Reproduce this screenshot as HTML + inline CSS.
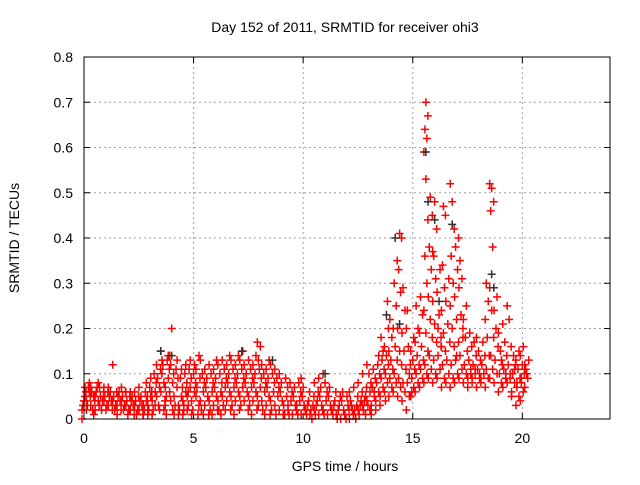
<!DOCTYPE html>
<html><head><meta charset="utf-8"><style>
html,body{margin:0;padding:0;background:#fff;}
svg text{font-family:"Liberation Sans",sans-serif;font-size:14px;fill:#000;}
</style></head><body>
<svg id="chart" width="640" height="480" xmlns="http://www.w3.org/2000/svg">
<rect width="640" height="480" fill="#fff"/>
<text x="345" y="32" text-anchor="middle">Day 152 of 2011, SRMTID for receiver ohi3</text>
<text x="345" y="471" text-anchor="middle">GPS time / hours</text>
<text transform="translate(19,238) rotate(-90)" text-anchor="middle">SRMTID / TECUs</text>
<g id="grid"></g>
<g id="ticks"></g>
<g id="marks"></g>
<rect x="84" y="57" width="526" height="362" fill="none" stroke="#000" stroke-width="1"/>
</svg>
<script>
const xTicks=[0,5,10,15,20];
const yTicks=[0,0.1,0.2,0.3,0.4,0.5,0.6,0.7,0.8];
const yTickLabels=["0","0.1","0.2","0.3","0.4","0.5","0.6","0.7","0.8"];
const times=[0.0,0.2,0.4,0.6,0.8,1.0,1.2,1.4,1.6,1.8,2.0,2.2,2.4,2.6,2.8,3.0,3.2,3.4,3.6,3.8,4.0,4.2,4.4,4.6,4.8,5.0,5.2,5.4,5.6,5.8,6.0,6.2,6.4,6.6,6.8,7.0,7.2,7.4,7.6,7.8,8.0,8.2,8.4,8.6,8.8,9.0,9.2,9.4,9.6,9.8,10.0,10.2,10.4,10.6,10.8,11.0,11.2,11.4,11.6,11.8,12.0,12.2,12.4,12.6,12.8,13.0,13.2,13.4,13.6,13.8,14.0,14.2,14.4,14.6,14.8,15.0,15.2,15.4,15.6,15.8,16.0,16.2,16.4,16.6,16.8,17.0,17.2,17.4,17.6,17.8,18.0,18.2,18.4,18.6,18.8,19.0,19.2,19.4,19.6,19.8,20.0,20.2];
const vals=[[0,5,3,6,4,2,7],[4,6,3,5,7,2,8],[3,5,6,4,2,7,1],[5,4,6,3,7,2,8],[3,4,5,6,2,7],[4,3,5,6,2,7],[3,4,5,2,6,7],[4,3,5,6,2,12],[3,4,5,2,6,1],[4,3,5,6,2,7],[3,2,4,5,1,6],[2,3,4,1,5,6],[3,2,4,5,1,6],[2,3,4,1,5,7],[3,4,2,5,6,1,8],[3,5,2,6,7,1,9],[4,6,2,8,10,1,3],[5,7,9,11,3,12,2],[6,8,10,4,12,15,2,13],[7,9,5,11,13,3,14,1],[6,8,4,10,20,14,2,12],[5,7,3,9,11,1,13],[3,5,2,7,9,1,11],[4,6,2,8,10,1,12,3],[5,7,3,9,11,2,13,6],[4,6,2,8,10,1,12],[5,3,7,9,1,11,14],[4,6,2,8,10,13,1],[3,5,7,1,9,11],[4,6,2,8,10,12,1],[3,5,7,2,9,11,13],[4,6,2,8,10,12,1],[5,7,3,9,11,13,2],[4,6,8,2,10,12,14],[5,7,3,9,11,13,1],[4,6,8,2,10,12,14],[5,7,3,9,11,13,15],[4,6,8,2,10,12],[5,7,3,9,11,13,1],[4,6,8,2,10,12,14],[5,7,3,9,11,17,16,13],[4,6,2,8,10,12,1],[3,5,7,1,9,11,13],[4,6,2,8,10,12],[3,5,1,7,9,11],[2,4,6,1,8,10],[3,5,1,7,9],[2,4,1,6,8,3],[1,3,5,2,7],[2,4,1,6,8,3],[1,3,5,2,7,9],[2,4,1,6,3],[1,3,2,5,0],[2,4,1,6,3,8],[1,3,5,2,7,9],[2,4,1,6,8,10],[1,3,5,2,7],[2,4,1,6,3],[1,3,0,5,2],[0,2,4,1,6],[1,3,0,2,5],[0,2,4,1,3,6],[1,3,2,5,0,7],[2,4,1,6,3,8],[3,5,2,7,4,10,1],[4,6,3,8,10,12,2],[3,5,7,9,11,1,6],[4,6,8,10,12,2,14],[5,7,9,11,13,3,15,18],[6,8,10,12,14,16,26,4,20],[5,7,9,11,13,15,18,22],[6,8,10,13,16,20,25,30,35],[5,7,9,12,15,20,28,33,40,41],[4,6,8,11,15,19,24,29],[2,5,8,12,16,20,10,24],[5,7,9,11,13,15,18,6],[6,8,10,12,14,17,20,25],[7,9,11,13,16,19,23,27],[8,10,12,15,19,24,30,36,44,53,59,62,64,67,70],[9,11,14,18,22,27,33,38,45,49],[8,10,13,17,21,26,31,36,42,48,37],[9,11,14,18,23,28,33,20,16],[7,9,12,15,19,24,29,34,45,47,16],[8,10,13,17,21,26,31],[7,9,12,16,20,25,30,36,42,48,52],[8,10,13,17,22,27,33,38,40,14],[9,11,14,18,23,29,31,35,20],[8,10,12,15,18,22,25],[9,11,13,16,19,7,10],[8,10,12,14,17,9,11],[7,9,11,13,15,18,10],[8,10,12,14,17,9],[7,9,11,14,18,22,26,30],[9,11,14,18,24,29,38,46,48,51,52],[8,10,13,16,20,24,27],[6,8,10,12,15,19,13],[7,9,11,14,17,21,10],[8,10,12,16,22,25,9],[6,8,10,12,14,5,11],[3,5,7,9,11,13,15,8],[4,6,8,10,12,14,16,9],[7,9,11,13,10,12]];
const blackTimes=[3.5,4.0,7.2,8.6,11.0,13.8,14.2,14.4,15.6,15.7,16.0,16.2,16.8,18.6,18.7];
const blackVals=[15,14,15,13,10,23,40,21,59,48,44,26,43,32,29];

const X0=84,X1=610,Y0=419,Y1=57;
const xs=t=>X0+(t/24)*(X1-X0);
const ys=v=>Y0-(v/0.8)*(Y0-Y1);
const NS="http://www.w3.org/2000/svg";
function mk(tag,attrs,parent){const e=document.createElementNS(NS,tag);for(const k in attrs)e.setAttribute(k,attrs[k]);parent.appendChild(e);return e;}
const grid=document.getElementById('grid'),ticks=document.getElementById('ticks'),marks=document.getElementById('marks');
xTicks.forEach(t=>{const x=xs(t);
 if(t>0){const g=mk('line',{x1:x,x2:x,y1:Y1,y2:Y0,stroke:'#a0a0a0','stroke-dasharray':'2,3'},grid);
 
 }
 mk('line',{x1:x,x2:x,y1:Y0,y2:Y0-6,stroke:'#000'},ticks);
 mk('line',{x1:x,x2:x,y1:Y1,y2:Y1+6,stroke:'#000'},ticks);
 const l=mk('text',{x:x,y:443,'text-anchor':'middle'},ticks);l.textContent=String(t);
 
 
});
yTicks.forEach((v,i)=>{const y=ys(v);
 if(i>0&&i<yTicks.length-1){const g=mk('line',{x1:X0,x2:X1,y1:y,y2:y,stroke:'#a0a0a0','stroke-dasharray':'2,3'},grid);
 
 }
 mk('line',{x1:X0,x2:X0+6,y1:y,y2:y,stroke:'#000'},ticks);
 mk('line',{x1:X1,x2:X1-6,y1:y,y2:y,stroke:'#000'},ticks);
 const l=mk('text',{x:73,y:y+5,'text-anchor':'end'},ticks);l.textContent=yTickLabels[i];
 
 
});
function plus(x,y,color,name){
 const p=mk('path',{d:`M${x-4},${y}H${x+4}M${x},${y-4}V${y+4}`,stroke:color,'stroke-width':1.5,fill:'none'},marks);
 
 }
times.forEach((t,i)=>{vals[i].forEach((v,j)=>plus(xs(t)+((j*3)%5)-2,ys(v/100),'#ff0000','red-point'));});
blackTimes.forEach((t,i)=>plus(xs(t),ys(blackVals[i]/100),'#303030','black-point'));
</script>
</body></html>
